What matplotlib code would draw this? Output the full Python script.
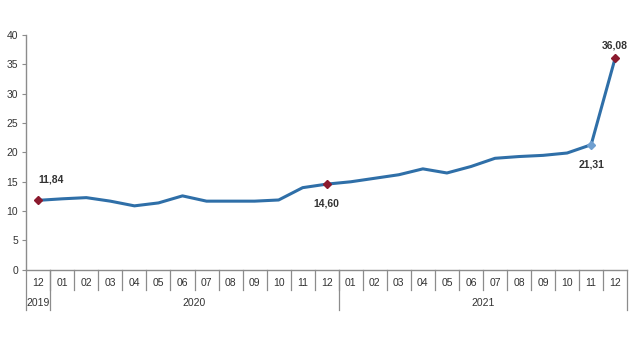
import matplotlib
matplotlib.use('Agg')
from matplotlib import pyplot as plt
from matplotlib import transforms

plt.rcParams['font.family'] = ['Liberation Sans', 'DejaVu Sans']

months = ['12', '01', '02', '03', '04', '05', '06', '07', '08', '09', '10', '11', '12',
          '01', '02', '03', '04', '05', '06', '07', '08', '09', '10', '11', '12']
years = ['2019', '2020', '2021']
year_counts = [1, 12, 12]
values = [11.84, 12.1, 12.3, 11.7, 10.9, 11.4, 12.6, 11.7, 11.7, 11.7, 11.9, 14.0, 14.60,
          15.0, 15.6, 16.2, 17.2, 16.5, 17.6, 19.0, 19.3, 19.5, 19.9, 21.31, 36.08]
labelled = {0: '11,84', 12: '14,60', 23: '21,31', 24: '36,08'}

line_col = '#2f6fa8'
axis_col = '#8c8c8c'
text_col = '#333333'

fig = plt.figure(figsize=(6.4, 3.5), dpi=100)
ax = fig.add_axes([0.041, 0.229, 0.939, 0.671])

x = list(range(len(values)))
ax.plot(x, values, color=line_col, lw=2.2, zorder=2)

# highlighted points
for i in [0, 12, 24]:
    ax.plot(x[i], values[i], marker='D', ms=4.5, color='#8b1a2e', zorder=3)
ax.plot(x[23], values[23], marker='D', ms=4.5, color='#6f9fd0', zorder=3)

offsets = {0: (9, 15), 12: (0, -14), 23: (0, -14), 24: (0, 9)}
for i, txt in labelled.items():
    ax.annotate(txt, (x[i], values[i]), xytext=offsets[i], textcoords='offset points',
                ha='center', va='center', fontsize=7.5, fontweight='bold', color=text_col)

ax.set_xlim(-0.5, len(values) - 0.5)
ax.set_ylim(0, 40)
ax.set_yticks(range(0, 41, 5))
ax.tick_params(axis='y', labelsize=7.5, colors=text_col, length=3, color=axis_col, pad=3)
ax.set_xticks([])

for s in ['top', 'right']:
    ax.spines[s].set_visible(False)
for s in ['left', 'bottom']:
    ax.spines[s].set_color(axis_col)
    ax.spines[s].set_linewidth(1.0)

trans = transforms.blended_transform_factory(ax.transData, ax.transAxes)

# month labels and separators
for i, m in enumerate(months):
    ax.text(i, -0.055, m, transform=trans, ha='center', va='center', fontsize=7.5, color=text_col)
for i in range(1, len(months)):
    ax.plot([i - 0.5, i - 0.5], [0, -0.085], transform=trans, color=axis_col, lw=0.9, clip_on=False)

# year labels and longer separators
start = 0
bounds = [-0.5]
for y, n in zip(years, year_counts):
    ax.text(start + (n - 1) / 2, -0.14, y, transform=trans, ha='center', va='center',
            fontsize=7.5, color=text_col)
    start += n
    bounds.append(start - 0.5)
for b in bounds:
    ax.plot([b, b], [0, -0.17], transform=trans, color=axis_col, lw=0.9, clip_on=False)

fig.savefig('out.png', dpi=100)
